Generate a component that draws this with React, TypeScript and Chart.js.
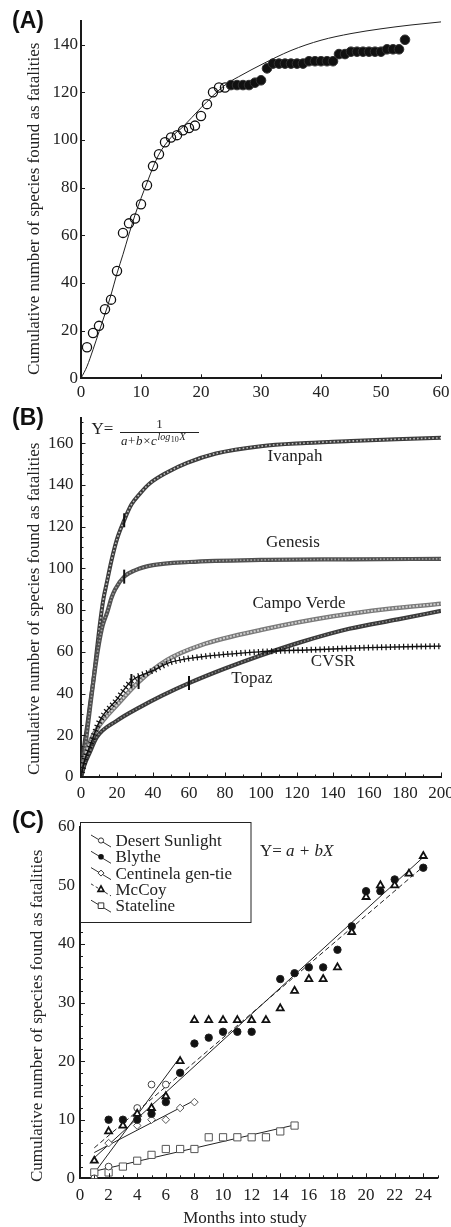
import React, { useEffect, useRef } from 'react';
import { Chart, registerables } from 'chart.js';
Chart.register(...registerables);

const SERIF = '"Liberation Serif", "Times New Roman", Times, serif';
const SANS = '"Liberation Sans", Arial, Helvetica, sans-serif';
const INK = '#1a1a1a';
const TXT = '#222';
const TICK_FONT = { family: SERIF, size: 17 };
const Y_TITLE = 'Cumulative number of species found as fatalities';

// ---------------- Panel A ----------------
const A_X_TICKS = [0, 10, 20, 30, 40, 50, 60];
const A_Y_TICKS = [0, 20, 40, 60, 80, 100, 120, 140];
const A_OPEN_X = [1, 2, 3, 4, 5, 6, 7, 8, 9, 10, 11, 12, 13, 14, 15, 16, 17, 18, 19, 20, 21, 22, 23, 24];
const A_OPEN_Y = [13, 19, 22, 29, 33, 45, 61, 65, 67, 73, 81, 89, 94, 99, 101, 102, 104, 105, 106, 110, 115, 120, 122, 122];
const A_FILLED_X = [25, 26, 27, 28, 29, 30, 31, 32, 33, 34, 35, 36, 37, 38, 39, 40, 41, 42, 43, 44, 45, 46, 47, 48, 49, 50, 51, 52, 53, 54];
const A_FILLED_Y = [123, 123, 123, 123, 124, 125, 130, 132, 132, 132, 132, 132, 132, 133, 133, 133, 133, 133, 136, 136, 137, 137, 137, 137, 137, 137, 138, 138, 138, 142];
const A_CURVE_X = [0, 1, 2, 3, 4, 5, 6, 7, 8, 9, 10, 11, 12, 13, 15, 17, 20, 24, 27, 30, 35, 40, 45, 50, 55, 60];
const A_CURVE_Y = [0, 5, 12, 19.5, 27, 35, 44, 52, 60.5, 68.5, 75.5, 82, 88.5, 94, 101, 105.5, 113.5, 123, 127.5, 131.5, 137.5, 141.8, 144.6, 146.6, 148.2, 149.5];

// ---------------- Panel B ----------------
const B_X_TICKS = [0, 20, 40, 60, 80, 100, 120, 140, 160, 180, 200];
const B_Y_TICKS = [0, 20, 40, 60, 80, 100, 120, 140, 160];
const B_IVANPAH_X = [0, 1.7, 3.5, 5, 6.8, 8.7, 10.6, 12.4, 14.3, 17, 20, 24, 28, 33, 38, 48, 59, 75, 100, 125, 150, 175, 200];
const B_IVANPAH_Y = [0, 14.5, 25, 35, 46, 60, 74, 85, 93, 104, 114, 123, 130.5, 136, 140.5, 146, 150.5, 155, 158.5, 160, 161, 161.8, 162.5];
const B_GENESIS_X = [0, 2, 5, 8, 10, 12, 14.6, 17, 19, 24, 30, 40, 60, 100, 150, 200];
const B_GENESIS_Y = [0, 12, 33, 53, 64, 72.5, 79, 86, 90, 96, 99, 101.5, 103, 104, 104.3, 104.5];
const B_CAMPO_X = [0, 2, 5, 10.5, 20, 32, 47.6, 66, 103, 140, 170, 200];
const B_CAMPO_Y = [0, 9, 17, 25, 34.5, 45.5, 56, 63, 71, 77, 80.5, 83];
const B_CVSR_X = [0, 2, 5, 10.5, 19.8, 28, 40, 50, 66, 100, 130, 160, 200];
const B_CVSR_Y = [0, 8, 15, 27, 37, 46, 51, 55, 57.5, 60, 61, 62, 62.7];
const B_TOPAZ_X = [0, 2, 5, 8.7, 20, 32.8, 45, 60, 80, 99, 121.7, 149, 176, 200];
const B_TOPAZ_Y = [0, 6, 12, 19, 27, 33.5, 39, 45, 52, 58, 64.5, 71, 75.5, 79.6];
const B_END_X = [24, 24, 32, 28, 60];
const B_END_Y = [123, 96, 45.5, 46, 45];

// ---------------- Panel C ----------------
const C_X_TICKS = [0, 2, 4, 6, 8, 10, 12, 14, 16, 18, 20, 22, 24];
const C_Y_TICKS = [0, 10, 20, 30, 40, 50, 60];
const C_DS_X = [1, 2, 4, 5, 6];
const C_DS_Y = [0, 2, 12, 16, 16];
const C_BL_X = [2, 3, 4, 5, 6, 7, 8, 9, 10, 11, 12, 14, 15, 16, 17, 18, 19, 20, 21, 22, 24];
const C_BL_Y = [10, 10, 10, 11, 13, 18, 23, 24, 25, 25, 25, 34, 35, 36, 36, 39, 43, 49, 49, 51, 53];
const C_CE_X = [2, 4, 5, 6, 7, 8];
const C_CE_Y = [6, 9, 10, 10, 12, 13];
const C_MC_X = [1, 2, 3, 4, 5, 6, 7, 8, 9, 10, 11, 12, 13, 14, 15, 16, 17, 18, 19, 20, 21, 22, 23, 24];
const C_MC_Y = [3, 8, 9, 11, 12, 14, 20, 27, 27, 27, 27, 27, 27, 29, 32, 34, 34, 36, 42, 48, 50, 50, 52, 55];
const C_ST_X = [1, 2, 3, 4, 5, 6, 7, 8, 9, 10, 11, 12, 13, 14, 15];
const C_ST_Y = [1, 1, 2, 3, 4, 5, 5, 5, 7, 7, 7, 7, 7, 8, 9];
const C_DS_FIT_X = [1, 7];
const C_DS_FIT_Y = [0.9, 20.7];
const C_BL_FIT_X = [1, 24];
const C_BL_FIT_Y = [3.5, 54.8];
const C_CE_FIT_X = [1, 8];
const C_CE_FIT_Y = [4.4, 13.3];
const C_MC_FIT_X = [1, 24];
const C_MC_FIT_Y = [5.2, 53.2];
const C_ST_FIT_X = [1, 15];
const C_ST_FIT_Y = [1.2, 9.1];
const C_LEGEND = ['Desert Sunlight', 'Blythe', 'Centinela gen-tie', 'McCoy', 'Stateline'];

type Frame = { W: number; H: number; L: number; T: number; R: number; B: number };
const FA: Frame = { W: 451, H: 405, L: 81, T: 20.7, R: 441, B: 378.3 };
const FB: Frame = { W: 451, H: 400, L: 81, T: 13, R: 441, B: 372 };
const FC: Frame = { W: 451, H: 422, L: 80, T: 21.7, R: 437.6, B: 373.3 };

const pts = (xs: number[], ys: number[]) => xs.map((x, i) => ({ x, y: ys[i] }));
const range = (a: number, b: number, s: number) => {
  const out: number[] = [];
  for (let v = a; v <= b + 1e-9; v += s) out.push(v);
  return out;
};

function baseOptions(f: Frame, xr: [number, number], yr: [number, number], xt: number[], yt: number[], xPad: number, yPad: number) {
  return {
    responsive: false,
    animation: false,
    devicePixelRatio: 1,
    events: [],
    layout: { padding: { left: 0, top: f.T, right: f.W - f.R, bottom: 0 } },
    plugins: { legend: { display: false }, tooltip: { enabled: false } },
    scales: {
      x: {
        type: 'linear',
        min: xr[0],
        max: xr[1],
        grid: { display: false, drawTicks: false },
        border: { display: true, color: INK, width: 2 },
        ticks: { font: TICK_FONT, color: TXT, padding: xPad, maxRotation: 0, autoSkip: false },
        afterBuildTicks: (s: any) => { s.ticks = xt.map((v) => ({ value: v })); },
        afterFit: (s: any) => { s.height = f.H - f.B; s.paddingLeft = 0; s.paddingRight = 0; },
      },
      y: {
        type: 'linear',
        min: yr[0],
        max: yr[1],
        grid: { display: false, drawTicks: false },
        border: { display: true, color: INK, width: 2 },
        ticks: { font: TICK_FONT, color: TXT, padding: yPad, autoSkip: false },
        afterBuildTicks: (s: any) => { s.ticks = yt.map((v) => ({ value: v })); },
        afterFit: (s: any) => { s.width = f.L; s.paddingTop = 0; s.paddingBottom = 0; },
      },
    },
  };
}

function tickMarks(chart: any, axis: 'x' | 'y', values: number[], len: number) {
  const ctx = chart.ctx;
  const a = chart.chartArea;
  const s = chart.scales[axis];
  ctx.save();
  ctx.strokeStyle = INK;
  ctx.lineWidth = 1;
  values.forEach((v) => {
    const p = Math.round(s.getPixelForValue(v)) + 0.5;
    ctx.beginPath();
    if (axis === 'x') { ctx.moveTo(p, a.bottom); ctx.lineTo(p, a.bottom - len); }
    else { ctx.moveTo(a.left, p); ctx.lineTo(a.left + len, p); }
    ctx.stroke();
  });
  ctx.restore();
}

function text(ctx: any, s: string, x: number, y: number, font: string, align = 'left', color = TXT) {
  ctx.save();
  ctx.font = font;
  ctx.fillStyle = color;
  ctx.textAlign = align;
  ctx.textBaseline = 'middle';
  ctx.fillText(s, x, y);
  ctx.restore();
}

function vtext(ctx: any, s: string, cx: number, cy: number, size: number) {
  ctx.save();
  ctx.translate(cx, cy);
  ctx.rotate(-Math.PI / 2);
  ctx.font = `${size}px ${SERIF}`;
  ctx.fillStyle = TXT;
  ctx.textAlign = 'center';
  ctx.textBaseline = 'middle';
  ctx.fillText(s, 0, 0);
  ctx.restore();
}

function panelLetter(ctx: any, s: string, y: number) {
  text(ctx, s, 12, y, `bold 23px ${SANS}`, 'left', '#111');
}

function decor(draw: (ctx: any, chart: any) => void) {
  return {
    id: 'decor',
    afterDraw(chart: any) {
      const ctx = chart.ctx;
      ctx.save();
      draw(ctx, chart);
      ctx.restore();
    },
  };
}

function configA() {
  return {
    type: 'scatter',
    data: {
      datasets: [
        { data: pts(A_FILLED_X, A_FILLED_Y), showLine: false, pointRadius: 4.8, pointBackgroundColor: '#111', pointBorderColor: '#333', pointBorderWidth: 1, order: 1 },
        { data: pts(A_OPEN_X, A_OPEN_Y), showLine: false, pointRadius: 4.6, pointBackgroundColor: 'rgba(255,255,255,0)', pointBorderColor: '#111', pointBorderWidth: 1.3, order: 1 },
        { data: pts(A_CURVE_X, A_CURVE_Y), showLine: true, pointRadius: 0, borderColor: '#222', borderWidth: 1, cubicInterpolationMode: 'monotone', order: 2 },
      ],
    },
    options: baseOptions(FA, [0, 60], [0, 150], A_X_TICKS, A_Y_TICKS, 4.5, 3),
    plugins: [
      decor((ctx, chart) => {
        tickMarks(chart, 'x', A_X_TICKS, 4);
        tickMarks(chart, 'y', A_Y_TICKS, 4);
        panelLetter(ctx, '(A)', 22);
        vtext(ctx, Y_TITLE, 35, 208.8, 17);
      }),
    ],
  };
}

function curve(xs: number[], ys: number[], color: string, width: number, order: number, dash?: number[]) {
  return {
    data: pts(xs, ys),
    showLine: true,
    pointRadius: 0,
    borderColor: color,
    borderWidth: width,
    borderDash: dash || [],
    cubicInterpolationMode: 'monotone',
    order,
  };
}

function configB() {
  return {
    type: 'scatter',
    data: {
      datasets: [
        { data: pts(B_END_X, B_END_Y), showLine: false, pointStyle: 'line', rotation: 90, pointRadius: 7, pointBorderColor: '#111', pointBorderWidth: 2, order: 0 },
        curve(B_CVSR_X, B_CVSR_Y, '#111', 6, 1, [1.2, 3.2]),
        curve(B_CVSR_X, B_CVSR_Y, '#111', 1.4, 2),
        curve(B_TOPAZ_X, B_TOPAZ_Y, '#8a8a8a', 1.5, 3, [1.5, 2]),
        curve(B_TOPAZ_X, B_TOPAZ_Y, '#3a3a3a', 4.2, 4),
        curve(B_CAMPO_X, B_CAMPO_Y, '#cfcfcf', 2, 5, [2, 1.5]),
        curve(B_CAMPO_X, B_CAMPO_Y, '#7a7a7a', 4.5, 6),
        curve(B_GENESIS_X, B_GENESIS_Y, '#a0a0a0', 1.6, 7, [1.5, 2]),
        curve(B_GENESIS_X, B_GENESIS_Y, '#505050', 4.2, 8),
        curve(B_IVANPAH_X, B_IVANPAH_Y, '#bdbdbd', 1.6, 9, [1.6, 2.2]),
        curve(B_IVANPAH_X, B_IVANPAH_Y, '#3c3c3c', 4, 10),
      ],
    },
    options: baseOptions(FB, [0, 200], [0, 172], B_X_TICKS, B_Y_TICKS, 6, 7.5),
    plugins: [
      decor((ctx, chart) => {
        tickMarks(chart, 'x', range(0, 200, 10), 2.5);
        tickMarks(chart, 'x', B_X_TICKS, 4.5);
        tickMarks(chart, 'y', range(0, 170, 5), 2.5);
        tickMarks(chart, 'y', B_Y_TICKS, 4.5);
        panelLetter(ctx, '(B)', 14);
        vtext(ctx, Y_TITLE, 35, 203.8, 17);
        const f17 = `17px ${SERIF}`;
        text(ctx, 'Ivanpah', 295, 52, f17, 'center');
        text(ctx, 'Genesis', 293, 138, f17, 'center');
        text(ctx, 'Campo Verde', 299, 199, f17, 'center');
        text(ctx, 'CVSR', 333, 257, f17, 'center');
        text(ctx, 'Topaz', 252, 274, f17, 'center');
        // equation Y = 1 / (a + b x c^(log10 X))
        text(ctx, 'Y=', 91.5, 25, f17, 'left');
        ctx.strokeStyle = '#222';
        ctx.lineWidth = 1;
        ctx.beginPath();
        ctx.moveTo(120, 27.5);
        ctx.lineTo(199, 27.5);
        ctx.stroke();
        text(ctx, '1', 159.5, 19.5, `13px ${SERIF}`, 'center');
        let x = 121;
        const seq: [string, string, number][] = [
          ['a', `italic 13px ${SERIF}`, 37],
          ['+', `13px ${SERIF}`, 37],
          ['b', `italic 13px ${SERIF}`, 37],
          ['\u00d7', `13px ${SERIF}`, 37],
          ['c', `italic 13px ${SERIF}`, 37],
          ['log', `italic 10px ${SERIF}`, 32.5],
          ['10', `8px ${SERIF}`, 35],
          ['X', `italic 10px ${SERIF}`, 32],
        ];
        seq.forEach(([s, font, y]) => {
          ctx.font = font;
          const w = ctx.measureText(s).width;
          text(ctx, s, x, y, font, 'left');
          x += w + 0.6;
        });
      }),
    ],
  };
}

function drawMarker(ctx: any, kind: string, x: number, y: number) {
  ctx.save();
  ctx.beginPath();
  ctx.fillStyle = '#fff';
  ctx.strokeStyle = '#333';
  ctx.lineWidth = 1;
  if (kind === 'open') { ctx.arc(x, y, 2.6, 0, Math.PI * 2); ctx.fill(); ctx.stroke(); }
  else if (kind === 'filled') { ctx.arc(x, y, 2.8, 0, Math.PI * 2); ctx.fillStyle = '#111'; ctx.fill(); }
  else if (kind === 'diamond') { ctx.moveTo(x, y - 3); ctx.lineTo(x + 3, y); ctx.lineTo(x, y + 3); ctx.lineTo(x - 3, y); ctx.closePath(); ctx.fill(); ctx.stroke(); }
  else if (kind === 'tri') { ctx.moveTo(x, y - 3.4); ctx.lineTo(x + 3, y + 2); ctx.lineTo(x - 3, y + 2); ctx.closePath(); ctx.fill(); ctx.lineWidth = 1.6; ctx.strokeStyle = '#111'; ctx.stroke(); }
  else if (kind === 'square') { ctx.rect(x - 2.8, y - 2.8, 5.6, 5.6); ctx.fill(); ctx.stroke(); }
  ctx.restore();
}

function configC() {
  const fit = (xs: number[], ys: number[], dash?: number[]) => ({
    data: pts(xs, ys), showLine: true, pointRadius: 0, borderColor: '#222', borderWidth: 1, borderDash: dash || [], order: 5,
  });
  return {
    type: 'scatter',
    data: {
      datasets: [
        { data: pts(C_MC_X, C_MC_Y), showLine: false, pointStyle: 'triangle', pointRadius: 4, pointBackgroundColor: '#fff', pointBorderColor: '#111', pointBorderWidth: 1.8, order: 1 },
        { data: pts(C_BL_X, C_BL_Y), showLine: false, pointStyle: 'circle', pointRadius: 3.7, pointBackgroundColor: '#111', pointBorderColor: '#222', pointBorderWidth: 1, order: 2 },
        { data: pts(C_DS_X, C_DS_Y), showLine: false, pointStyle: 'circle', pointRadius: 3.4, pointBackgroundColor: '#fff', pointBorderColor: '#444', pointBorderWidth: 1, order: 3 },
        { data: pts(C_CE_X, C_CE_Y), showLine: false, pointStyle: 'rectRot', pointRadius: 3.8, pointBackgroundColor: '#fff', pointBorderColor: '#555', pointBorderWidth: 1, order: 3 },
        { data: pts(C_ST_X, C_ST_Y), showLine: false, pointStyle: 'rect', pointRadius: 5.1, pointBackgroundColor: '#fff', pointBorderColor: '#555', pointBorderWidth: 1, order: 3 },
        fit(C_DS_FIT_X, C_DS_FIT_Y),
        fit(C_BL_FIT_X, C_BL_FIT_Y),
        fit(C_CE_FIT_X, C_CE_FIT_Y),
        fit(C_MC_FIT_X, C_MC_FIT_Y, [5, 3]),
        fit(C_ST_FIT_X, C_ST_FIT_Y),
      ],
    },
    options: baseOptions(FC, [0, 25], [0, 60], C_X_TICKS, C_Y_TICKS, 7.5, 5),
    plugins: [
      decor((ctx, chart) => {
        tickMarks(chart, 'x', range(0, 25, 1), 3);
        tickMarks(chart, 'x', C_X_TICKS, 5);
        tickMarks(chart, 'y', range(0, 60, 2), 3);
        tickMarks(chart, 'y', C_Y_TICKS, 5);
        panelLetter(ctx, '(C)', 16.7);
        vtext(ctx, Y_TITLE, 37.5, 210.8, 17);
        const f17 = `17px ${SERIF}`;
        text(ctx, 'Months into study', 245, 413.3, f17, 'center');
        // legend box
        ctx.fillStyle = '#fff';
        ctx.fillRect(81, 17.5, 170, 100);
        ctx.strokeStyle = '#222';
        ctx.lineWidth = 1;
        ctx.strokeRect(80.5, 17.5, 170.5, 100);
        const kinds = ['open', 'filled', 'diamond', 'tri', 'square'];
        C_LEGEND.forEach((label, i) => {
          const yc = 36 + i * 16.3;
          ctx.save();
          ctx.strokeStyle = '#333';
          ctx.lineWidth = 1;
          if (kinds[i] === 'tri') ctx.setLineDash([3, 2.5]);
          ctx.beginPath();
          ctx.moveTo(91, yc - 6);
          ctx.lineTo(111, yc + 6);
          ctx.stroke();
          ctx.restore();
          drawMarker(ctx, kinds[i], 101, yc - 0.5);
          text(ctx, label, 115.5, yc + 0.5, f17, 'left');
        });
        // equation Y = a + bX
        ctx.font = f17;
        const w1 = ctx.measureText('Y= ').width;
        text(ctx, 'Y= ', 260, 46.7, f17, 'left');
        text(ctx, 'a + bX', 260 + w1, 46.7, `italic 17px ${SERIF}`, 'left');
      }),
    ],
  };
}

function Panel({ top, frame, make }: { top: number; frame: Frame; make: () => any }) {
  const ref = useRef<HTMLCanvasElement>(null);
  useEffect(() => {
    const chart = new Chart(ref.current as HTMLCanvasElement, make());
    return () => chart.destroy();
  }, []);
  return (
    <canvas
      ref={ref}
      width={frame.W}
      height={frame.H}
      style={{ position: 'absolute', left: 0, top, width: frame.W, height: frame.H }}
    />
  );
}

export default function App() {
  return (
    <div style={{ position: 'absolute', left: 0, top: 0, width: 451, height: 1227, background: '#fff', overflow: 'hidden' }}>
      <Panel top={0} frame={FA} make={configA} />
      <Panel top={405} frame={FB} make={configB} />
      <Panel top={805} frame={FC} make={configC} />
    </div>
  );
}
